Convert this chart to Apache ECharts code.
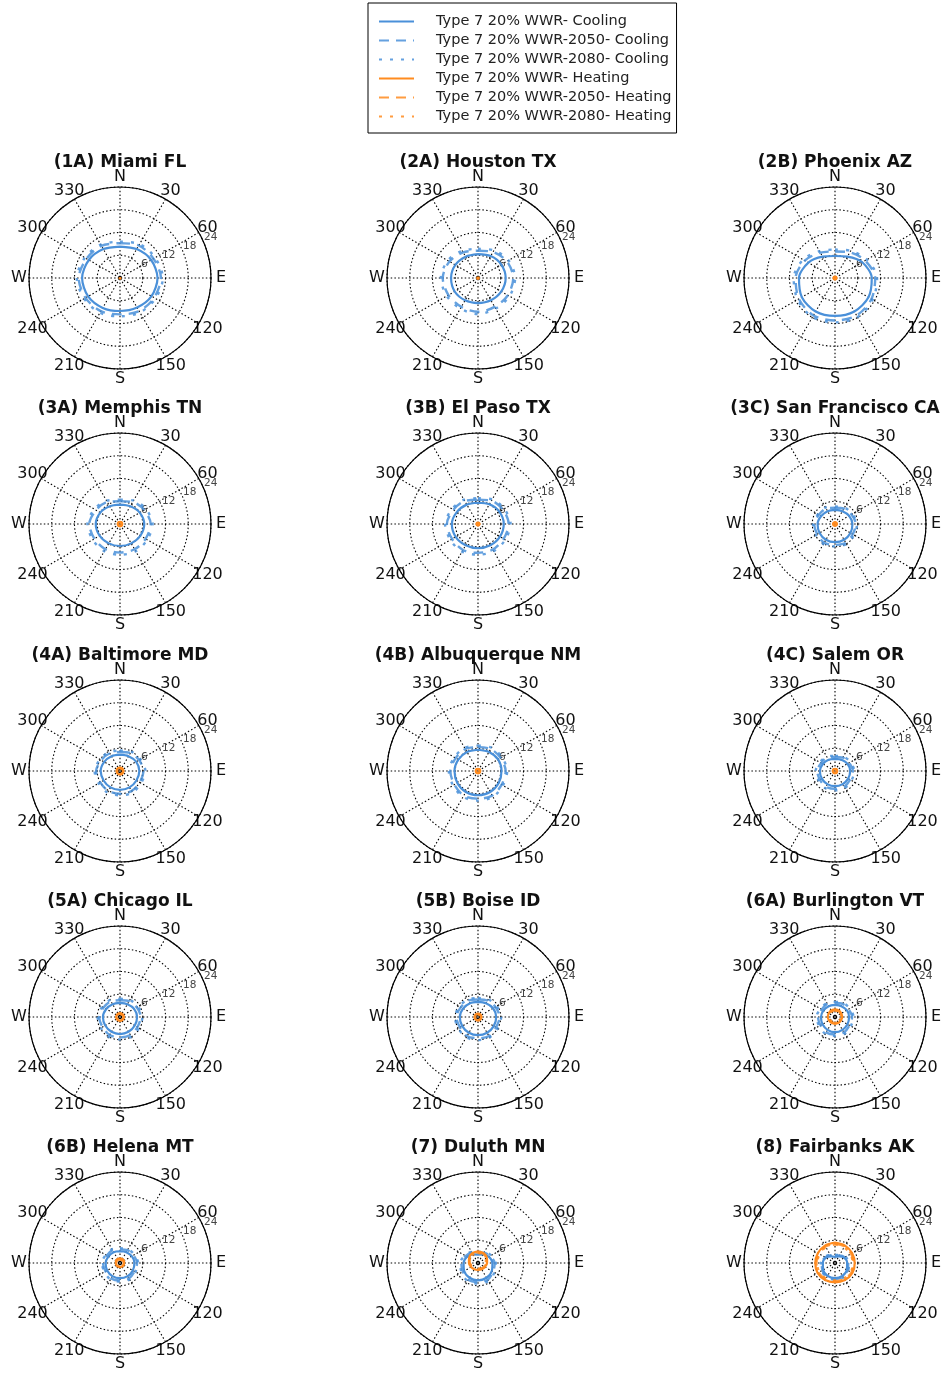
<!DOCTYPE html>
<html>
<head>
<meta charset="utf-8">
<title>Polar loads</title>
<script src="https://cdn.jsdelivr.net/npm/echarts@6.0.0/dist/echarts.min.js"></script>
<style>html,body{margin:0;padding:0;background:#fff;}</style>
</head>
<body>
<div id="main" style="width:948px;height:1374px;"></div>
<script type="text/javascript">
// city titles, row by row
var cities = ['(1A) Miami FL', '(2A) Houston TX', '(2B) Phoenix AZ',
    '(3A) Memphis TN', '(3B) El Paso TX', '(3C) San Francisco CA',
    '(4A) Baltimore MD', '(4B) Albuquerque NM', '(4C) Salem OR',
    '(5A) Chicago IL', '(5B) Boise ID', '(6A) Burlington VT',
    '(6B) Helena MT', '(7) Duluth MN', '(8) Fairbanks AK'];

// orientation of the building, degrees clockwise from north
var angles = [0, 30, 60, 90, 120, 150, 180, 210, 240, 270, 300, 330];
var angleNames = {0: 'N', 90: 'E', 180: 'S', 270: 'W'};
var radialTicks = [0, 6, 12, 18, 24];

var seriesNames = ['Type 7 20% WWR- Cooling', 'Type 7 20% WWR-2050- Cooling', 'Type 7 20% WWR-2080- Cooling',
    'Type 7 20% WWR- Heating', 'Type 7 20% WWR-2050- Heating', 'Type 7 20% WWR-2080- Heating'];

var coolNow = [
    [8.3, 8.8, 9.5, 9.9, 9.6, 9.0, 8.7, 9.1, 9.7, 10.0, 9.5, 8.8],
    [6.3, 6.7, 7.1, 7.3, 7.1, 6.8, 6.6, 6.8, 7.1, 7.1, 6.9, 6.5],
    [5.8, 6.5, 8.3, 9.7, 10.2, 10.2, 10.0, 10.2, 10.1, 9.5, 8.1, 6.5],
    [5.1, 5.4, 6.0, 6.4, 6.2, 5.9, 5.8, 5.9, 6.2, 6.4, 6.0, 5.4],
    [5.6, 6.0, 6.5, 6.8, 6.7, 6.5, 6.4, 6.5, 6.8, 6.9, 6.4, 5.9],
    [3.7, 3.9, 4.3, 4.6, 4.7, 4.8, 4.8, 4.8, 4.7, 4.6, 4.2, 3.9],
    [4.3, 4.5, 4.9, 5.1, 5.0, 5.0, 5.0, 5.0, 5.0, 5.1, 4.8, 4.5],
    [5.6, 5.8, 6.1, 6.2, 6.3, 6.4, 6.4, 6.4, 6.3, 6.2, 6.0, 5.8],
    [3.2, 3.4, 3.8, 4.0, 4.0, 4.0, 4.0, 4.0, 4.0, 4.0, 3.7, 3.4],
    [3.7, 3.9, 4.3, 4.5, 4.5, 4.5, 4.5, 4.5, 4.5, 4.5, 4.2, 3.9],
    [4.0, 4.2, 4.6, 4.8, 4.8, 4.8, 4.8, 4.8, 4.8, 4.8, 4.5, 4.2],
    [3.2, 3.3, 3.6, 3.7, 3.8, 3.9, 4.0, 3.9, 3.8, 3.7, 3.5, 3.3],
    [3.1, 3.3, 3.6, 3.8, 3.9, 4.0, 4.0, 4.0, 3.9, 3.8, 3.5, 3.3],
    [2.2, 2.6, 3.3, 3.8, 4.2, 4.5, 4.6, 4.5, 4.2, 3.8, 3.3, 2.6],
    [1.6, 2.0, 2.8, 3.2, 3.6, 3.9, 4.0, 3.9, 3.6, 3.2, 2.8, 2.0]
];
var cool2050 = [
    [9.2, 9.9, 10.2, 10.8, 10.4, 10.1, 9.6, 10.1, 10.5, 10.9, 10.2, 9.8],
    [7.2, 7.9, 8.8, 9.3, 9.1, 8.8, 8.9, 8.8, 9.0, 9.3, 8.7, 7.8],
    [7.0, 7.8, 9.2, 10.6, 11.1, 11.4, 11.2, 11.4, 11.0, 10.4, 9.2, 7.7],
    [6.0, 6.7, 7.4, 8.1, 7.8, 7.7, 7.5, 7.7, 7.8, 8.1, 7.3, 6.7],
    [6.4, 7.1, 7.6, 8.1, 7.8, 7.8, 7.6, 7.9, 7.9, 8.2, 7.5, 7.0],
    [4.3, 4.7, 5.0, 5.5, 5.4, 5.7, 5.5, 5.7, 5.4, 5.5, 4.9, 4.7],
    [5.0, 5.5, 5.8, 6.2, 6.0, 6.1, 6.0, 6.1, 6.0, 6.3, 5.7, 5.4],
    [6.3, 6.7, 6.9, 7.3, 7.2, 7.5, 7.3, 7.5, 7.2, 7.3, 6.8, 6.7],
    [3.7, 4.1, 4.3, 4.7, 4.6, 4.8, 4.7, 4.8, 4.6, 4.7, 4.2, 4.1],
    [4.4, 4.8, 5.1, 5.5, 5.3, 5.5, 5.4, 5.5, 5.3, 5.5, 5.0, 4.8],
    [4.6, 5.0, 5.3, 5.7, 5.5, 5.8, 5.6, 5.8, 5.5, 5.7, 5.2, 5.0],
    [3.7, 4.0, 4.1, 4.5, 4.4, 4.7, 4.6, 4.7, 4.4, 4.5, 4.0, 4.0],
    [3.6, 3.9, 4.1, 4.5, 4.4, 4.7, 4.6, 4.7, 4.4, 4.5, 4.0, 3.9],
    [2.6, 3.1, 3.7, 4.4, 4.6, 5.1, 5.0, 5.1, 4.6, 4.4, 3.7, 3.1],
    [1.9, 2.3, 3.0, 3.5, 3.8, 4.2, 4.2, 4.2, 3.8, 3.5, 3.0, 2.3]
];
var cool2080 = [
    [9.6, 10.3, 10.7, 11.3, 10.8, 10.5, 10.1, 10.6, 10.9, 11.4, 10.7, 10.2],
    [7.7, 8.4, 9.3, 9.8, 9.6, 9.3, 9.5, 9.3, 9.5, 9.8, 9.2, 8.3],
    [7.5, 8.3, 9.7, 11.1, 11.5, 11.9, 11.7, 11.9, 11.4, 10.9, 9.7, 8.2],
    [6.4, 7.2, 7.9, 8.6, 8.3, 8.3, 8.1, 8.3, 8.3, 8.6, 7.8, 7.1],
    [6.8, 7.5, 8.0, 8.6, 8.3, 8.3, 8.1, 8.4, 8.4, 8.7, 7.9, 7.4],
    [4.6, 5.0, 5.3, 5.8, 5.8, 6.1, 5.9, 6.1, 5.8, 5.8, 5.2, 5.0],
    [5.4, 5.9, 6.2, 6.7, 6.4, 6.6, 6.4, 6.6, 6.5, 6.7, 6.1, 5.8],
    [6.7, 7.1, 7.3, 7.7, 7.6, 7.9, 7.8, 7.9, 7.6, 7.7, 7.2, 7.1],
    [4.0, 4.4, 4.7, 5.1, 5.0, 5.2, 5.1, 5.2, 5.0, 5.1, 4.6, 4.4],
    [4.8, 5.2, 5.5, 5.9, 5.8, 6.0, 5.9, 6.0, 5.8, 5.9, 5.4, 5.2],
    [5.0, 5.4, 5.7, 6.1, 6.0, 6.2, 6.1, 6.2, 6.0, 6.1, 5.6, 5.4],
    [4.0, 4.3, 4.5, 4.9, 4.8, 5.1, 5.0, 5.1, 4.8, 4.9, 4.4, 4.3],
    [3.9, 4.2, 4.4, 4.8, 4.7, 5.0, 4.9, 5.0, 4.7, 4.8, 4.3, 4.2],
    [2.9, 3.4, 4.0, 4.7, 5.0, 5.5, 5.4, 5.5, 5.0, 4.7, 4.0, 3.4],
    [2.1, 2.5, 3.2, 3.7, 4.0, 4.4, 4.4, 4.4, 4.0, 3.7, 3.2, 2.5]
];
var heatNow = [
    [0.1, 0.1, 0.1, 0.1, 0.1, 0.1, 0.1, 0.1, 0.1, 0.1, 0.1, 0.1],
    [0.2, 0.2, 0.2, 0.2, 0.2, 0.2, 0.2, 0.2, 0.2, 0.2, 0.2, 0.2],
    [0.4, 0.4, 0.4, 0.4, 0.4, 0.4, 0.4, 0.4, 0.4, 0.4, 0.4, 0.4],
    [0.6, 0.6, 0.6, 0.6, 0.6, 0.6, 0.6, 0.6, 0.6, 0.6, 0.6, 0.6],
    [0.4, 0.4, 0.4, 0.4, 0.4, 0.4, 0.4, 0.4, 0.4, 0.4, 0.4, 0.4],
    [0.5, 0.5, 0.5, 0.5, 0.5, 0.5, 0.5, 0.5, 0.5, 0.5, 0.5, 0.5],
    [0.9, 0.9, 0.9, 0.9, 0.9, 0.9, 0.9, 0.9, 0.9, 0.9, 0.9, 0.9],
    [0.6, 0.6, 0.6, 0.6, 0.6, 0.6, 0.6, 0.6, 0.6, 0.6, 0.6, 0.6],
    [0.6, 0.6, 0.6, 0.6, 0.6, 0.6, 0.6, 0.6, 0.6, 0.6, 0.6, 0.6],
    [1.0, 1.0, 1.0, 1.0, 1.0, 1.0, 1.0, 1.0, 1.0, 1.0, 1.0, 1.0],
    [0.9, 0.9, 0.9, 0.9, 0.9, 0.9, 0.9, 0.9, 0.9, 0.9, 0.9, 0.9],
    [2.0, 2.0, 1.9, 1.9, 1.8, 1.8, 1.8, 1.8, 1.8, 1.9, 1.9, 2.0],
    [1.2, 1.2, 1.2, 1.1, 1.1, 1.1, 1.1, 1.1, 1.1, 1.1, 1.2, 1.2],
    [3.1, 3.0, 2.7, 2.4, 2.1, 1.9, 1.8, 1.9, 2.1, 2.4, 2.7, 3.0],
    [5.4, 5.3, 5.2, 5.2, 5.3, 5.2, 5.1, 5.2, 5.3, 5.2, 5.2, 5.3]
];
var heat2050 = [
    [0.1, 0.1, 0.1, 0.1, 0.1, 0.1, 0.1, 0.1, 0.1, 0.1, 0.1, 0.1],
    [0.1, 0.1, 0.1, 0.1, 0.1, 0.1, 0.1, 0.1, 0.1, 0.1, 0.1, 0.1],
    [0.3, 0.3, 0.3, 0.3, 0.3, 0.3, 0.3, 0.3, 0.3, 0.3, 0.3, 0.3],
    [0.5, 0.5, 0.5, 0.5, 0.5, 0.5, 0.5, 0.5, 0.5, 0.5, 0.5, 0.5],
    [0.3, 0.3, 0.3, 0.3, 0.3, 0.3, 0.3, 0.3, 0.3, 0.3, 0.3, 0.3],
    [0.4, 0.4, 0.4, 0.4, 0.4, 0.4, 0.4, 0.4, 0.4, 0.4, 0.4, 0.4],
    [0.8, 0.8, 0.8, 0.8, 0.8, 0.8, 0.8, 0.8, 0.8, 0.8, 0.8, 0.8],
    [0.5, 0.5, 0.5, 0.5, 0.5, 0.5, 0.5, 0.5, 0.5, 0.5, 0.5, 0.5],
    [0.5, 0.5, 0.5, 0.5, 0.5, 0.5, 0.5, 0.5, 0.5, 0.5, 0.5, 0.5],
    [0.9, 0.9, 0.9, 0.9, 0.9, 0.9, 0.9, 0.9, 0.9, 0.9, 0.9, 0.9],
    [0.8, 0.8, 0.8, 0.8, 0.8, 0.8, 0.8, 0.8, 0.8, 0.8, 0.8, 0.8],
    [1.8, 1.8, 1.7, 1.7, 1.6, 1.6, 1.6, 1.6, 1.6, 1.7, 1.7, 1.8],
    [1.0, 1.0, 1.0, 1.0, 1.0, 1.0, 1.0, 1.0, 1.0, 1.0, 1.0, 1.0],
    [2.9, 2.8, 2.5, 2.2, 1.9, 1.7, 1.6, 1.7, 1.9, 2.2, 2.5, 2.8],
    [5.1, 5.0, 4.9, 4.9, 5.0, 4.9, 4.8, 4.9, 5.0, 4.9, 4.9, 5.0]
];
var heat2080 = [
    [0.1, 0.1, 0.1, 0.1, 0.1, 0.1, 0.1, 0.1, 0.1, 0.1, 0.1, 0.1],
    [0.1, 0.1, 0.1, 0.1, 0.1, 0.1, 0.1, 0.1, 0.1, 0.1, 0.1, 0.1],
    [0.2, 0.2, 0.2, 0.2, 0.2, 0.2, 0.2, 0.2, 0.2, 0.2, 0.2, 0.2],
    [0.4, 0.4, 0.4, 0.4, 0.4, 0.4, 0.4, 0.4, 0.4, 0.4, 0.4, 0.4],
    [0.2, 0.2, 0.2, 0.2, 0.2, 0.2, 0.2, 0.2, 0.2, 0.2, 0.2, 0.2],
    [0.3, 0.3, 0.3, 0.3, 0.3, 0.3, 0.3, 0.3, 0.3, 0.3, 0.3, 0.3],
    [0.7, 0.7, 0.7, 0.7, 0.7, 0.7, 0.7, 0.7, 0.7, 0.7, 0.7, 0.7],
    [0.4, 0.4, 0.4, 0.4, 0.4, 0.4, 0.4, 0.4, 0.4, 0.4, 0.4, 0.4],
    [0.4, 0.4, 0.4, 0.4, 0.4, 0.4, 0.4, 0.4, 0.4, 0.4, 0.4, 0.4],
    [0.8, 0.8, 0.8, 0.8, 0.8, 0.8, 0.8, 0.8, 0.8, 0.8, 0.8, 0.8],
    [0.7, 0.7, 0.7, 0.7, 0.7, 0.7, 0.7, 0.7, 0.7, 0.7, 0.7, 0.7],
    [1.7, 1.7, 1.6, 1.6, 1.5, 1.5, 1.5, 1.5, 1.5, 1.6, 1.6, 1.7],
    [0.9, 0.9, 0.9, 0.9, 0.9, 0.9, 0.9, 0.9, 0.9, 0.9, 0.9, 0.9],
    [2.7, 2.6, 2.4, 2.1, 1.8, 1.6, 1.5, 1.6, 1.8, 2.1, 2.4, 2.6],
    [4.9, 4.8, 4.7, 4.7, 4.8, 4.7, 4.6, 4.7, 4.8, 4.7, 4.7, 4.8]
];

var blue = '#4a90d9';
var orange = '#ff8b1f';
var colX = [120, 478, 835];
var rowY = [278, 524, 771, 1017, 1263];
var R = 91;
var labelFont = 16;
var labelMargin = -20;   // anchor inside the circle, rich padding pushes each label out
var labelDist = R + 10;  // where the label centres sit, like matplotlib

// close each ring by repeating its first value at 360 degrees
function ring(vals) {
    var d = [];
    for (var k = 0; k <= angles.length; k++) {
        d.push([vals[k % angles.length], k < angles.length ? angles[k] : 360]);
    }
    return d;
}

function angleText(v) {
    return angleNames[v] || String(v);
}

// echarts anchors angle labels by a corner; pad them so the text is centred on labelDist
var ctx = document.createElement('canvas').getContext('2d');
ctx.font = labelFont + 'px DejaVu Sans';
var angleRich = {};
angles.forEach(function (v) {
    var t = v * Math.PI / 180;
    var sx = Math.sin(t), cy = Math.cos(t);
    var A = R + labelMargin, d = labelDist - A;
    var dx = d * sx, dy = -d * cy;
    var w = ctx.measureText(angleText(v)).width, h = labelFont;
    var ax = Math.abs(A * sx) / R < 0.3 ? 'center' : (sx > 0 ? 'left' : 'right');
    var ay = Math.abs(A * cy) / R < 0.3 ? 'middle' : (cy > 0 ? 'bottom' : 'top');
    var pl = 0, pr = 0, pt = 0, pb = 0;
    if (ax === 'left') pl = Math.max(0, dx - w / 2);
    else if (ax === 'right') pr = Math.max(0, -dx - w / 2);
    else { pl = Math.max(0, 2 * dx); pr = Math.max(0, -2 * dx); }
    if (ay === 'bottom') pb = Math.max(0, -dy - h / 2);
    else if (ay === 'top') pt = Math.max(0, dy - h / 2);
    else { pt = Math.max(0, 2 * dy); pb = Math.max(0, -2 * dy); }
    angleRich['a' + v] = {
        padding: [pt, pr, pb, pl], fontSize: labelFont, fontFamily: 'DejaVu Sans', color: '#111'
    };
});

var myChart = echarts.init(document.getElementById('main'));

var titles = [], polars = [], angleAxes = [], radiusAxes = [], series = [];
var sets = [coolNow, cool2050, cool2080, heatNow, heat2050, heat2080];
var dashes = ['solid', [10, 7], [3, 8], 'solid', [10, 7], [3, 8]];
var n = cities.length;
var gridLine = {show: true, lineStyle: {type: [1.5, 2.2], color: '#000', width: 1.1}};

for (var i = 0; i < n; i++) {
    var cx = colX[i % 3], cy = rowY[Math.floor(i / 3)];
    titles.push({
        text: cities[i], left: cx, top: cy - 124, textAlign: 'center', padding: 0,
        textStyle: {fontFamily: 'DejaVu Sans', fontSize: 17, fontWeight: 'bold', color: '#111'}
    });
    polars.push({center: [cx, cy], radius: R});
    angleAxes.push({
        polarIndex: i, type: 'value', min: 0, max: 360, interval: 30,
        startAngle: 90, clockwise: true,
        axisLine: {lineStyle: {color: '#000', width: 1.2}},
        axisTick: {show: false},
        axisLabel: {
            margin: labelMargin, fontSize: labelFont, fontFamily: 'DejaVu Sans', color: '#111',
            rich: angleRich,
            formatter: function (v) { return '{a' + v + '|' + angleText(v) + '}'; }
        },
        splitLine: gridLine
    });
    radiusAxes.push({
        polarIndex: i, type: 'value', min: radialTicks[0], max: radialTicks[radialTicks.length - 1], interval: 6,
        axisLine: {show: false}, axisTick: {show: false}, axisLabel: {show: false},
        splitLine: gridLine
    });
    for (var s = 0; s < 6; s++) {
        series.push({
            type: 'line', name: seriesNames[s], coordinateSystem: 'polar', polarIndex: i,
            data: ring(sets[s][i]), symbol: 'none', smooth: 0.3,
            lineStyle: {color: s < 3 ? blue : orange, width: s % 3 === 0 ? 2.2 : 2.4, type: dashes[s],
                opacity: s % 3 === 0 ? 1 : 0.85},
            itemStyle: {color: s < 3 ? blue : orange},
            z: 3 + s
        });
    }
}
// second set of polars, only to put the radial tick labels along 67.5 deg
for (var j = 0; j < n; j++) {
    var px = colX[j % 3], py = rowY[Math.floor(j / 3)];
    polars.push({center: [px, py], radius: R});
    angleAxes.push({polarIndex: n + j, type: 'value', min: 0, max: 360, startAngle: 22.5, show: false});
    radiusAxes.push({
        polarIndex: n + j, type: 'value', min: radialTicks[0], max: radialTicks[radialTicks.length - 1], interval: 6,
        axisLine: {show: false}, axisTick: {show: false}, splitLine: {show: false},
        axisLabel: {
            showMinLabel: false, margin: 0, align: 'left', verticalAlign: 'bottom',
            fontSize: 10.5, fontFamily: 'DejaVu Sans', color: '#444'
        }
    });
}

var option = {
    animation: false,
    backgroundColor: '#fff',
    title: titles,
    legend: {
        orient: 'vertical', left: 368, top: 3,
        padding: [11, 5, 9, 10], itemGap: 4, itemWidth: 35, itemHeight: 14,
        borderColor: '#000', borderWidth: 1, backgroundColor: '#fff',
        itemStyle: {opacity: 0},
        data: seriesNames,
        textStyle: {fontFamily: 'DejaVu Sans', fontSize: 14.5, color: '#222', padding: [0, 0, 0, 17]}
    },
    polar: polars,
    angleAxis: angleAxes,
    radiusAxis: radiusAxes,
    series: series
};

myChart.setOption(option);
</script>
</body>
</html>
